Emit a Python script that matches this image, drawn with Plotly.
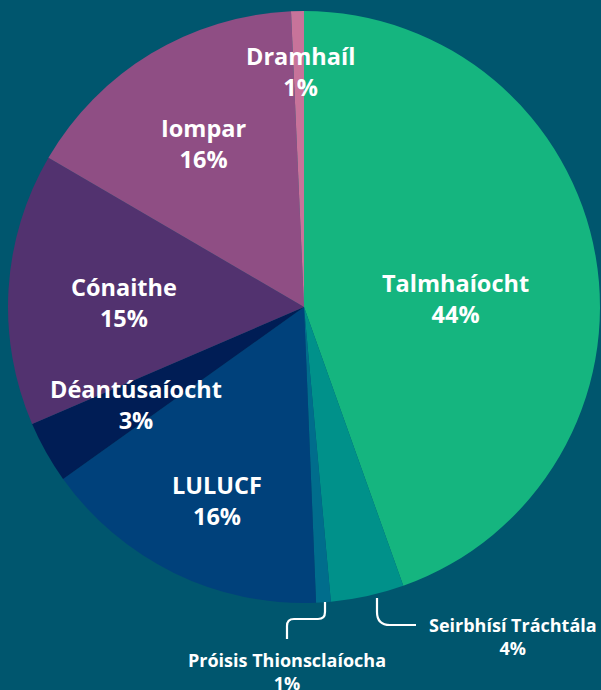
import plotly.graph_objects as go

# Data
sectors = ["Talmhaíocht", "Seirbhísí Tráchtála", "Próisis Thionsclaíocha", "LULUCF",
           "Déantúsaíocht", "Cónaithe", "Iompar", "Dramhaíl"]
shares = [44.6, 4.0, 0.8, 15.8, 3.4, 14.9, 15.9, 0.7]
share_labels = ["44%", "4%", "1%", "16%", "3%", "15%", "16%", "1%"]
colors = ["#15b57f", "#00918a", "#006d8c", "#00417b", "#001d55", "#52326f", "#8f4e84", "#c8739a"]

W, H = 601, 690
BG = "#00566e"

def px(x, y):
    return x / W, 1 - y / H

fig = go.Figure(go.Pie(
    labels=sectors, values=shares, sort=False, direction="clockwise", rotation=0,
    marker=dict(colors=colors, line=dict(width=0)),
    textinfo="none", hoverinfo="label+percent",
    domain=dict(x=[8 / W, 600 / W], y=[1 - 603 / H, 1 - 11 / H]),
    showlegend=False,
))

# label placement: (x centre, block centre y, font size) in pixels
label_pos = {
    "Talmhaíocht": (455, 298, 23.5),
    "Dramhaíl": (300, 71, 23.5),
    "Iompar": (203, 143, 23.5),
    "Cónaithe": (124, 302.5, 23.5),
    "Déantúsaíocht": (136, 404, 23.5),
    "LULUCF": (217, 500.5, 23.5),
    "Seirbhísí Tráchtála": (513, 636, 18),
    "Próisis Thionsclaíocha": (287, 671.5, 18),
}
for name, pct in zip(sectors, share_labels):
    x, y, fs = label_pos[name]
    xp, yp = px(x, y)
    fig.add_annotation(
        x=xp, y=yp, xref="paper", yref="paper", showarrow=False,
        text=f"{name}<br>{pct}", align="center",
        font=dict(family="Open Sans", size=fs, color="white", weight="bold"),
        xanchor="center", yanchor="middle",
    )

def path(points):
    s = ""
    for cmd, pts in points:
        s += cmd + " " + " ".join(f"{px(a, b)[0]:.5f},{px(a, b)[1]:.5f}" for a, b in pts) + " "
    return s.strip()

# leader lines
lead1 = path([("M", [(377, 598)]), ("L", [(377, 612)]), ("Q", [(377, 625), (390, 625)]), ("L", [(416, 625)])])
lead2 = path([("M", [(325, 602)]), ("L", [(325, 612)]), ("Q", [(325, 619), (318, 619)]),
              ("L", [(294, 619)]), ("Q", [(287, 619), (287, 626)]), ("L", [(287, 639)])])
for p in (lead1, lead2):
    fig.add_shape(type="path", path=p, xref="paper", yref="paper",
                  line=dict(color="white", width=2.2))

fig.update_layout(
    width=W, height=H, margin=dict(l=0, r=0, t=0, b=0),
    paper_bgcolor=BG, plot_bgcolor=BG,
)
fig.write_html(
    "out.html",
    config={"displayModeBar": False},
    post_script="document.body.style.margin='0';document.body.style.background='#00566e';",
)
